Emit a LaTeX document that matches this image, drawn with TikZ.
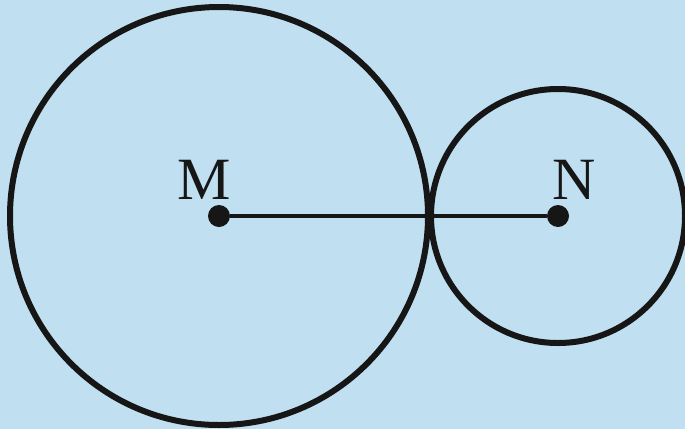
\documentclass[tikz,border=0pt]{standalone}
\usepackage{fontspec}
\setmainfont{Liberation Serif}
\definecolor{bg}{RGB}{192,224,241}
\definecolor{ink}{RGB}{22,22,22}
\begin{document}
\begin{tikzpicture}[x=1pt,y=-1pt,
  circ/.style={draw=ink,line width=6pt},
  pt/.style={circle,fill=ink,inner sep=0pt,minimum size=22pt},
  lbl/.style={font=\fontsize{60}{60}\selectfont,text=ink,inner sep=0pt}]
\fill[bg] (0,0) rectangle (685,429);
\useasboundingbox (0,0) rectangle (685,429);
\node[pt] (M) at (219,216) {};
\node[pt] (N) at (558,216) {};
\draw[circ] (M.center) circle[radius=209];
\draw[circ] (N.center) circle[radius=127];
\draw[ink,line width=4pt] (M) -- (N);
\node[lbl,anchor=base] (Ml) at (204,199) {M};
\node[lbl,anchor=base] (Nl) at (574,199) {N};
\end{tikzpicture}
\end{document}
